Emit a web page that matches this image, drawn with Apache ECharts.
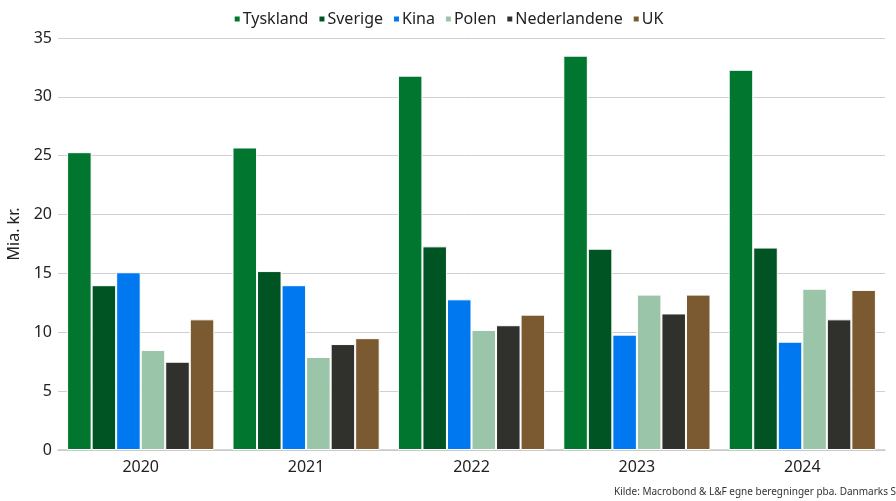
<!DOCTYPE html>
<html><head><meta charset="utf-8">
<script src="https://cdn.jsdelivr.net/npm/echarts@6/dist/echarts.min.js"></script>
<style>html,body{margin:0;padding:0;background:#fff}#c{width:896px;height:501px}</style>
</head><body><div id="c"></div>
<script>
const categories = ['2020','2021','2022','2023','2024'];
const seriesNames = ['Tyskland','Sverige','Kina','Polen','Nederlandene','UK'];
const tyskland = [25.3, 25.7, 31.8, 33.5, 32.3];
const sverige = [14.0, 15.2, 17.3, 17.1, 17.2];
const kina = [15.1, 14.0, 12.8, 9.8, 9.2];
const polen = [8.5, 7.9, 10.2, 13.2, 13.7];
const nederlandene = [7.5, 9.0, 10.6, 11.6, 11.1];
const uk = [11.1, 9.5, 11.5, 13.2, 13.6];
const colors = ['#00762F','#005423','#0078F0','#9AC5A8','#30312C','#7B5A32'];
const allData = [tyskland, sverige, kina, polen, nederlandene, uk];
const font = 'Noto Sans';
const chart = echarts.init(document.getElementById('c'));
chart.setOption({
  animation: false,
  textStyle: {fontFamily: font},
  legend: {
    top: 6, left: 'center', itemWidth: 7, itemHeight: 7, itemGap: 9,
    icon: 'rect',
    textStyle: {fontSize: 16, color: '#222', fontFamily: font, padding: [0,0,0,-3]},
    data: seriesNames
  },
  grid: {left: 58, right: 11, top: 38, bottom: 51, containLabel: false, outerBoundsMode: 'none'},
  xAxis: {
    type: 'category', data: categories,
    axisLine: {lineStyle: {color: '#c8c8c8', width: 1.5}},
    axisTick: {show: false},
    axisLabel: {fontSize: 16, color: '#222', margin: 9, fontFamily: font}
  },
  yAxis: {
    type: 'value', min: 0, max: 35, interval: 5,
    name: 'Mia. kr.', nameLocation: 'middle', nameGap: 26,
    nameTextStyle: {fontSize: 16, color: '#222', fontFamily: font, padding: [0, 0, 0, 20]},
    axisLine: {show: false},
    axisTick: {show: false},
    axisLabel: {fontSize: 16, color: '#222', margin: 6, fontFamily: font},
    splitLine: {lineStyle: {color: '#d0d0d0', width: 1}}
  },
  series: seriesNames.map((n, i) => ({
    name: n, type: 'bar', data: allData[i],
    barGap: '0%', barCategoryGap: '11%',
    itemStyle: {color: colors[i], borderColor: '#fff', borderWidth: 1}
  })),
  graphic: [{
    type: 'text', left: 614, top: 487,
    style: {text: 'Kilde: Macrobond & L&F egne beregninger pba. Danmarks Statistik', fontSize: 10, fill: '#333', fontFamily: font}
  }]
});
</script></body></html>
